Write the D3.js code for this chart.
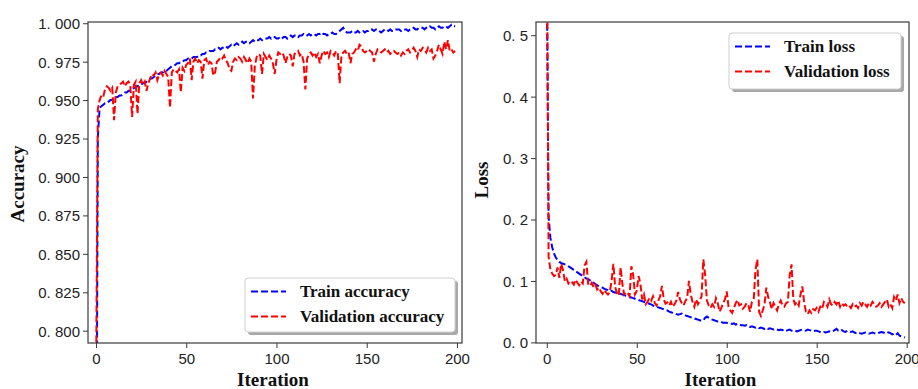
<!DOCTYPE html>
<html><head><meta charset="utf-8">
<script src="https://cdn.jsdelivr.net/npm/d3@7"></script>
<style>body{margin:0;background:#fff} svg{display:block}</style>
</head><body><svg id="c" width="918" height="389"></svg>
<script>
// ---- data ----
const trainAcc = [
0.62,0.925,0.945,0.946,0.947,0.948,0.948,0.949,0.950,0.950,
0.951,0.952,0.952,0.953,0.953,0.954,0.955,0.955,0.956,0.956,
0.957,0.958,0.958,0.959,0.960,0.960,0.961,0.961,0.962,0.963,
0.964,0.964,0.965,0.966,0.967,0.967,0.968,0.968,0.969,0.969,
0.970,0.971,0.972,0.972,0.973,0.974,0.974,0.975,0.975,0.976,
0.976,0.977,0.977,0.977,0.978,0.978,0.978,0.979,0.979,0.980,
0.980,0.981,0.981,0.982,0.982,0.982,0.983,0.983,0.984,0.983,
0.984,0.984,0.985,0.984,0.985,0.986,0.985,0.986,0.987,0.986,
0.987,0.988,0.987,0.988,0.988,0.987,0.988,0.989,0.988,0.989,
0.989,0.990,0.989,0.990,0.990,0.990,0.991,0.990,0.991,0.991,
0.990,0.990,0.991,0.990,0.991,0.991,0.990,0.991,0.992,0.991,
0.992,0.992,0.991,0.992,0.992,0.993,0.992,0.992,0.993,0.992,
0.993,0.993,0.992,0.993,0.993,0.994,0.993,0.993,0.992,0.993,
0.993,0.994,0.993,0.993,0.994,0.995,0.996,0.997,0.995,0.994,
0.994,0.994,0.995,0.994,0.994,0.995,0.994,0.995,0.995,0.994,
0.995,0.995,0.996,0.996,0.995,0.996,0.996,0.995,0.994,0.995,
0.996,0.996,0.995,0.996,0.995,0.995,0.996,0.996,0.996,0.995,
0.996,0.996,0.996,0.995,0.996,0.996,0.997,0.996,0.996,0.997,
0.997,0.997,0.996,0.997,0.997,0.998,0.997,0.997,0.996,0.997,
0.998,0.997,0.997,0.998,0.998,0.997,0.998,0.999,0.998,0.998];
const valAcc = [
0.76,0.944,0.950,0.953,0.952,0.957,0.959,0.958,0.956,0.958,
0.937,0.955,0.959,0.960,0.961,0.962,0.959,0.961,0.962,0.960,
0.939,0.960,0.962,0.941,0.961,0.963,0.960,0.962,0.956,0.961,
0.964,0.967,0.966,0.968,0.963,0.967,0.968,0.966,0.969,0.967,
0.965,0.945,0.968,0.970,0.969,0.968,0.970,0.955,0.971,0.969,
0.973,0.974,0.977,0.963,0.975,0.977,0.974,0.976,0.975,0.964,
0.976,0.977,0.973,0.975,0.974,0.966,0.968,0.975,0.976,0.978,
0.977,0.979,0.976,0.974,0.970,0.969,0.975,0.977,0.976,0.978,
0.977,0.975,0.978,0.976,0.974,0.977,0.975,0.951,0.972,0.978,
0.980,0.979,0.967,0.980,0.978,0.976,0.979,0.977,0.974,0.967,
0.976,0.981,0.980,0.981,0.979,0.974,0.978,0.980,0.979,0.972,
0.980,0.981,0.982,0.979,0.980,0.975,0.957,0.977,0.980,0.981,
0.979,0.981,0.978,0.980,0.974,0.979,0.982,0.980,0.981,0.978,
0.982,0.981,0.979,0.982,0.980,0.961,0.979,0.981,0.982,0.980,
0.981,0.974,0.980,0.981,0.983,0.982,0.986,0.985,0.982,0.981,
0.982,0.983,0.982,0.981,0.975,0.980,0.983,0.982,0.981,0.982,
0.983,0.981,0.982,0.980,0.981,0.982,0.981,0.980,0.981,0.979,
0.981,0.980,0.982,0.983,0.981,0.982,0.984,0.982,0.978,0.983,
0.982,0.984,0.983,0.981,0.984,0.982,0.983,0.977,0.979,0.982,
0.986,0.983,0.980,0.988,0.983,0.989,0.982,0.983,0.981,0.982];
const trainLoss = [
0.60,0.205,0.170,0.155,0.145,0.138,0.134,0.131,0.129,0.128,
0.127,0.126,0.124,0.122,0.120,0.118,0.116,0.114,0.112,0.110,
0.108,0.106,0.104,0.103,0.101,0.099,0.097,0.095,0.093,0.091,
0.090,0.089,0.087,0.086,0.085,0.083,0.084,0.082,0.081,0.082,
0.080,0.079,0.078,0.077,0.076,0.075,0.074,0.073,0.072,0.071,
0.070,0.069,0.068,0.067,0.066,0.065,0.064,0.063,0.062,0.060,
0.059,0.058,0.057,0.056,0.055,0.054,0.053,0.052,0.050,0.049,
0.048,0.047,0.046,0.045,0.046,0.047,0.045,0.044,0.043,0.042,
0.041,0.040,0.039,0.038,0.037,0.036,0.035,0.036,0.040,0.042,
0.040,0.038,0.037,0.036,0.035,0.034,0.034,0.033,0.032,0.032,
0.032,0.031,0.031,0.030,0.031,0.029,0.030,0.029,0.028,0.028,
0.027,0.028,0.026,0.025,0.026,0.025,0.024,0.025,0.023,0.024,
0.023,0.022,0.024,0.022,0.023,0.022,0.021,0.022,0.021,0.020,
0.021,0.020,0.021,0.019,0.020,0.021,0.019,0.020,0.019,0.018,
0.019,0.020,0.021,0.020,0.019,0.021,0.020,0.019,0.018,0.019,
0.019,0.018,0.017,0.016,0.017,0.016,0.017,0.018,0.017,0.018,
0.020,0.022,0.019,0.018,0.020,0.018,0.017,0.019,0.018,0.017,
0.018,0.016,0.015,0.016,0.015,0.014,0.015,0.016,0.015,0.014,
0.015,0.016,0.015,0.014,0.015,0.016,0.017,0.016,0.015,0.017,
0.016,0.015,0.013,0.014,0.012,0.015,0.011,0.010,0.009,0.008];
const valLoss = [
0.70,0.140,0.118,0.112,0.108,0.110,0.122,0.105,0.128,0.118,
0.100,0.104,0.096,0.100,0.098,0.094,0.102,0.097,0.093,0.099,
0.096,0.125,0.131,0.095,0.092,0.097,0.090,0.094,0.086,0.089,
0.083,0.079,0.085,0.081,0.078,0.082,0.100,0.128,0.090,0.080,
0.076,0.122,0.095,0.078,0.082,0.080,0.075,0.124,0.110,0.078,
0.084,0.108,0.096,0.070,0.078,0.062,0.066,0.072,0.068,0.075,
0.064,0.060,0.068,0.075,0.092,0.070,0.063,0.065,0.060,0.066,
0.058,0.062,0.068,0.082,0.070,0.064,0.060,0.067,0.072,0.100,
0.078,0.066,0.058,0.070,0.062,0.068,0.075,0.135,0.110,0.068,
0.060,0.056,0.062,0.058,0.072,0.064,0.050,0.056,0.064,0.070,
0.083,0.058,0.052,0.048,0.056,0.064,0.069,0.060,0.062,0.055,
0.058,0.064,0.060,0.050,0.066,0.070,0.118,0.135,0.050,0.043,
0.052,0.062,0.089,0.074,0.066,0.054,0.064,0.058,0.052,0.062,
0.068,0.060,0.058,0.064,0.066,0.110,0.127,0.070,0.062,0.066,
0.060,0.078,0.091,0.066,0.050,0.046,0.052,0.048,0.054,0.052,
0.056,0.050,0.058,0.054,0.066,0.064,0.058,0.070,0.062,0.060,
0.066,0.062,0.068,0.058,0.064,0.060,0.062,0.058,0.060,0.056,
0.062,0.058,0.060,0.056,0.064,0.060,0.066,0.062,0.058,0.064,
0.060,0.066,0.062,0.058,0.060,0.064,0.058,0.062,0.066,0.070,
0.058,0.062,0.056,0.074,0.068,0.078,0.064,0.072,0.066,0.064];
const iterTicks = [0, 50, 100, 150, 200];
const accTicks = [0.800, 0.825, 0.850, 0.875, 0.900, 0.925, 0.950, 0.975, 1.000];
const lossTicks = [0.0, 0.1, 0.2, 0.3, 0.4, 0.5];
const accLegend = ["Train accuracy", "Validation accuracy"];
const lossLegend = ["Train loss", "Validation loss"];
const seriesColors = ["#0000ff", "#ff0000"];

// ---- drawing ----
const svg = d3.select("#c");
const FRAME = "#3a3a3a";
const TICKFONT = "'Liberation Sans', Arial, sans-serif";
const SERIF = "'Liberation Serif', 'Times New Roman', serif";

function panel(o) {
  const g = svg.append("g");
  const x = d3.scaleLinear().domain(o.xDomain).range([o.left, o.right]);
  const y = d3.scaleLinear().domain(o.yDomain).range([o.bottom, o.top]);
  const clipId = "clip" + o.id;
  svg.append("clipPath").attr("id", clipId).append("rect")
    .attr("x", o.left).attr("y", o.top).attr("width", o.right - o.left).attr("height", o.bottom - o.top);

  const line = d3.line().x((d, i) => x(i)).y(d => y(d));
  o.series.forEach((s, k) => {
    g.append("path").attr("d", line(s)).attr("fill", "none")
      .attr("stroke", seriesColors[k]).attr("stroke-width", 2)
      .attr("stroke-dasharray", "7,3").attr("clip-path", `url(#${clipId})`);
  });

  // axes
  const ax = g.append("g").attr("transform", `translate(0,${o.bottom})`)
    .call(d3.axisBottom(x).tickValues(iterTicks).tickSize(5).tickPadding(4).tickFormat(d3.format("d")));
  const ay = g.append("g").attr("transform", `translate(${o.left},0)`)
    .call(d3.axisLeft(y).tickValues(o.yTicks).tickSize(5).tickPadding(3)
      .tickFormat(d => d3.format(o.fmt)(d).replace(".", ". ")));
  [ax, ay].forEach(a => {
    a.select(".domain").remove();
    a.selectAll(".tick line").attr("stroke", FRAME);
    a.selectAll(".tick text").attr("fill", "#222").style("font-family", TICKFONT).style("font-size", "15px");
  });
  ax.selectAll(".tick text").attr("dy", null).attr("y", 21);
  ay.selectAll(".tick text").attr("dy", "0.36em");

  g.append("rect").attr("x", o.left).attr("y", o.top)
    .attr("width", o.right - o.left).attr("height", o.bottom - o.top)
    .attr("fill", "none").attr("stroke", FRAME).attr("stroke-width", 1.2);

  // labels
  g.append("text").attr("x", (o.left + o.right) / 2 - 2).attr("y", 386)
    .attr("text-anchor", "middle").style("font-family", SERIF).style("font-weight", "bold")
    .style("font-size", "19px").attr("fill", "#111").text("Iteration");
  g.append("text").attr("transform", `translate(${o.ylabX},${o.ylabY}) rotate(-90)`)
    .attr("text-anchor", "middle").style("font-family", SERIF).style("font-weight", "bold")
    .style("font-size", "19px").attr("fill", "#111").text(o.ylabel);

  // legend
  const L = o.legend;
  g.append("rect").attr("x", L.x + 3).attr("y", L.y + 3).attr("width", L.w).attr("height", L.h)
    .attr("rx", 3).attr("fill", "#a8a8a8");
  g.append("rect").attr("x", L.x).attr("y", L.y).attr("width", L.w).attr("height", L.h)
    .attr("rx", 3).attr("fill", "#fff").attr("stroke", "#cfcfcf").attr("stroke-width", 1);
  o.legendNames.forEach((name, k) => {
    const cy = L.y + 13.5 + k * 25;
    g.append("line").attr("x1", L.x + 6).attr("x2", L.x + 41).attr("y1", cy).attr("y2", cy)
      .attr("stroke", seriesColors[k]).attr("stroke-width", 2).attr("stroke-dasharray", "7,3");
    g.append("text").attr("x", L.x + 55).attr("y", cy + 5.5)
      .style("font-family", SERIF).style("font-weight", "bold").style("font-size", "17px")
      .attr("fill", "#111").text(name);
  });
}

panel({
  id: "A", left: 88, right: 462, top: 22, bottom: 343,
  xDomain: [-4.43, 202.8], yDomain: [0.792, 1.0008],
  yTicks: accTicks, fmt: ".3f", series: [trainAcc, valAcc],
  ylabel: "Accuracy", ylabX: 24, ylabY: 184,
  legend: {x: 245, y: 278, w: 210, h: 54}, legendNames: accLegend
});
panel({
  id: "B", left: 536, right: 909, top: 22, bottom: 343,
  xDomain: [-6.0, 201.3], yDomain: [-0.001, 0.5215],
  yTicks: lossTicks, fmt: ".1f", series: [trainLoss, valLoss],
  ylabel: "Loss", ylabX: 488, ylabY: 180,
  legend: {x: 729, y: 33, w: 172, h: 56}, legendNames: lossLegend
});
</script></body></html>
